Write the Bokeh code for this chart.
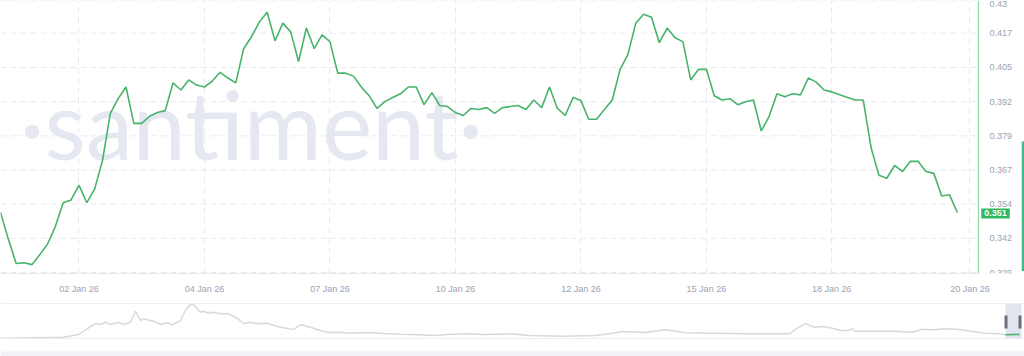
from bokeh.plotting import figure
from bokeh.models import Range1d, FixedTicker, Label, BoxAnnotation, Span, LinearAxis
from bokeh.layouts import column
from bokeh.embed import file_html
from bokeh.resources import INLINE

# ---- main series (price, one value per step) ----
price = [
    0.3511, 0.3413, 0.3323, 0.3326, 0.3319, 0.3355, 0.3395, 0.3460, 0.3547, 0.3557,
    0.3612, 0.3547, 0.3597, 0.3702, 0.3876, 0.3930, 0.3973, 0.3839, 0.3839, 0.3865,
    0.3879, 0.3886, 0.3988, 0.3962, 0.3999, 0.3980, 0.3973, 0.3995, 0.4027, 0.4006,
    0.3988, 0.4114, 0.4158, 0.4212, 0.4248, 0.4143, 0.4208, 0.4176, 0.4067, 0.4190,
    0.4114, 0.4165, 0.4140, 0.4024, 0.4024, 0.4013, 0.3973, 0.3941, 0.3894, 0.3919,
    0.3934, 0.3948, 0.3973, 0.3973, 0.3908, 0.3952, 0.3905, 0.3901, 0.3879, 0.3868,
    0.3894, 0.3890, 0.3897, 0.3876, 0.3897, 0.3901, 0.3905, 0.3890, 0.3925, 0.3897,
    0.3973, 0.3894, 0.3868, 0.3934, 0.3923, 0.3854, 0.3854, 0.3890, 0.3925, 0.4038,
    0.4093, 0.4208, 0.4241, 0.4230, 0.4136, 0.4190, 0.4154, 0.4140, 0.3999, 0.4038,
    0.4038, 0.3941, 0.3925, 0.3930, 0.3908, 0.3919, 0.3925, 0.3811, 0.3865, 0.3948,
    0.3937, 0.3948, 0.3944, 0.4006, 0.3991, 0.3962, 0.3955, 0.3944, 0.3934, 0.3925,
    0.3925, 0.3749, 0.3648, 0.3637, 0.3684, 0.3662, 0.3699, 0.3699, 0.3662, 0.3655,
    0.3572, 0.3576, 0.3511,
]
steps = list(range(len(price)))

x_tick_idx = [10, 26, 42, 58, 74, 90, 106, 123.6]
x_tick_labels = ["02 Jan 26", "04 Jan 26", "07 Jan 26", "10 Jan 26",
                 "12 Jan 26", "15 Jan 26", "18 Jan 26", "20 Jan 26"]

y_tick_vals = [0.329, 0.3416, 0.3542, 0.3667, 0.3793, 0.3919, 0.4045, 0.4171, 0.4291]
y_tick_labels = ["0.329", "0.342", "0.354", "0.367", "0.379", "0.392", "0.405", "0.417", "0.43"]

# ---- navigator overview series (time position, relative level) ----
nav_t = [0, 63, 78, 87, 95, 100, 105, 110, 118, 123, 130, 135, 140, 143, 153, 160, 167,
         172, 180, 185, 190, 193, 200, 203, 208, 213, 220, 227, 237, 243, 250, 257, 267,
         277, 287, 293, 300, 307, 320, 328, 337, 350, 367, 383, 400, 417, 433, 447, 467,
         483, 512, 529, 562, 595, 612, 622, 645, 665, 685, 712, 745, 789, 797, 805, 814,
         822, 832, 840, 848, 852, 854, 865, 895, 912, 922, 932, 945, 959, 972, 985, 999,
         1005, 1012, 1019]
nav_h = [0.3, 1.3, 4, 10, 15, 14, 16.3, 14, 16.3, 14, 16.3, 27.3, 18, 19.7, 17.3, 14, 15.7,
         13.7, 18, 28, 34, 34, 26.3, 27.3, 25.3, 26.3, 24.7, 25, 20, 15, 16.3, 14.7, 15.3,
         12, 10, 9, 14, 12, 8, 6, 6.3, 5.3, 6, 5, 4.3, 3.7, 3, 4, 4.7,
         4, 4.5, 3, 2.3, 3, 5.3, 7, 6, 8.7, 5.7, 5.3, 4.7, 4.7, 10.7, 14.7, 11.3,
         12, 10.3, 8, 8, 9.7, 7.3, 7.3, 7.3, 6.3, 9.3, 8.7, 9.7, 9, 7, 5.3, 4.7,
         3.7, 4, 4]
window = (1005, 1021)

GREEN = "#47b36b"
LABEL = "#9aa2b3"
GRID = "#e9eaee"
FONT = "Liberation Sans"

X_END = 124.7          # data end of the chart area (right axis position)
X_MAX = 130.56         # canvas right edge in step units

p = figure(width=1024, height=296,
           x_range=Range1d(0, X_MAX), y_range=Range1d(0.32864, 0.42914),
           y_axis_location=None, output_backend="svg", toolbar_location=None,
           min_border_left=0, min_border_top=0, min_border_right=0, min_border_bottom=18,
           background_fill_color="white", border_fill_color="white")
p.outline_line_color = None
p.ygrid.visible = False

# horizontal dashed grid, drawn at the tick values up to the axis
p.segment(x0=[0] * len(y_tick_vals), x1=[X_END] * len(y_tick_vals),
          y0=y_tick_vals, y1=y_tick_vals, line_color=GRID, line_dash="6 4", line_width=1,
          level="underlay")

# watermark
p.add_layout(Label(x=32, y=0.3724, text="\u00b7santiment\u00b7", text_align="center",
                   text_baseline="alphabetic", y_offset=32, text_font="Lato",
                   text_font_size="95px", text_color="#e5e8f0", level="underlay"))

p.line(steps, price, line_color=GREEN, line_width=1.6)

# x axis
xa = p.xaxis[0]
xa.ticker = FixedTicker(ticks=x_tick_idx)
xa.major_label_overrides = {t: l for t, l in zip(x_tick_idx, x_tick_labels)}
xa.bounds = (0, X_END)
xa.axis_line_color = "#e6e8ee"
xa.major_tick_line_color = None
xa.minor_tick_line_color = None
xa.major_label_standoff = 4
xa.major_label_text_font = FONT
xa.major_label_text_font_size = "9px"
xa.major_label_text_color = LABEL

p.xgrid.grid_line_color = GRID
p.xgrid.grid_line_dash = "6 4"

# y axis drawn at the chart's right edge
ya = LinearAxis(fixed_location=X_END, ticker=FixedTicker(ticks=y_tick_vals))
ya.major_label_overrides = {t: l for t, l in zip(y_tick_vals, y_tick_labels)}
ya.axis_line_color = "#8fd6a6"
ya.axis_line_width = 1.2
ya.major_tick_line_color = None
ya.minor_tick_line_color = None
ya.major_label_standoff = 5
ya.major_label_text_font = FONT
ya.major_label_text_font_size = "9px"
ya.major_label_text_color = LABEL
p.add_layout(ya, "right")

# last value tag
p.add_layout(Label(x=X_END + 0.35, y=price[-1], text=f"{price[-1]:.3f}", text_align="left",
                   text_baseline="middle", y_offset=-1, text_font=FONT,
                   text_font_size="9px", text_font_style="bold", text_color="white",
                   background_fill_color="#2fb85e", padding=(3, 2)))

# right scroll indicator
p.add_layout(BoxAnnotation(left=130.2, right=130.5, bottom=0.3296, top=0.3772,
                           fill_color="#3cbf86", fill_alpha=1, line_color=None))

# ---- navigator ----
nav = figure(width=1024, height=60, x_range=Range1d(0, 1024), y_range=Range1d(-18, 42),
             output_backend="svg", toolbar_location=None, min_border=0,
             x_axis_location=None, y_axis_location=None,
             background_fill_color="white", border_fill_color="white")
nav.outline_line_color = None
nav.grid.visible = False
nav.add_layout(BoxAnnotation(bottom=-18, top=-13, fill_color="#f1f2f6", fill_alpha=1,
                             line_color=None, level="underlay"))
nav.add_layout(Span(location=35, dimension="width", line_color="#eceef2", line_width=1))
nav.add_layout(Span(location=0, dimension="width", line_color="#eceef2", line_width=1))
nav.add_layout(BoxAnnotation(left=window[0], right=window[1], bottom=0, top=35,
                             fill_color="#e2e5ee", fill_alpha=1, line_color=None,
                             level="underlay"))
nav.line(nav_t, nav_h, line_color="#d6d9e1", line_width=1.5)
sel_t = [t for t in nav_t if t >= window[0]]
sel_h = [h for t, h in zip(nav_t, nav_h) if t >= window[0]]
nav.line(sel_t, sel_h, line_color=GREEN, line_width=1.5)
for lft in (window[0] - 1, window[1] - 3):
    nav.add_layout(BoxAnnotation(left=lft, right=lft + 3, bottom=10, top=23,
                                 fill_color="#6c707c", fill_alpha=1, line_color=None))

layout = column(p, nav, spacing=0)
open("out.html", "w").write(file_html(layout, INLINE))
